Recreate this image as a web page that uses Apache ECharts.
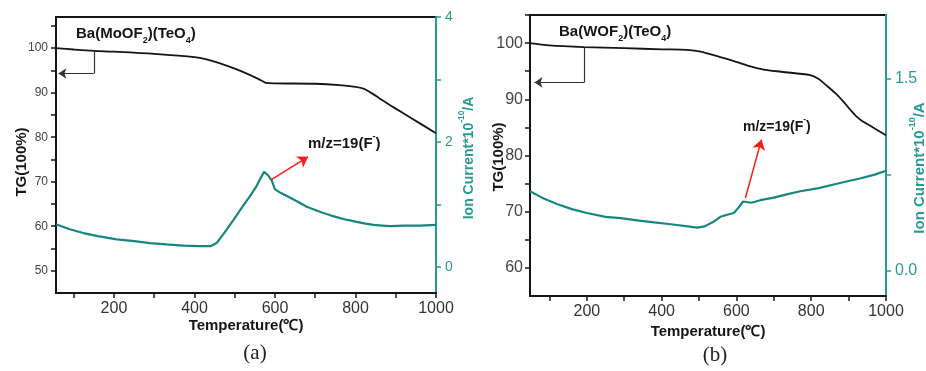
<!DOCTYPE html>
<html>
<head>
<meta charset="utf-8">
<script src="https://cdn.jsdelivr.net/npm/echarts@6/dist/echarts.min.js"></script>
<style>
  html, body { margin: 0; padding: 0; background: #fff; }
  #chart { width: 926px; height: 371px; }
</style>
</head>
<body>
<div id="chart"></div>
<script>
// panel (a) Ba(MoOF2)(TeO4)
const tempTgA = [56, 100, 150, 200, 300, 400, 430, 460, 500, 540, 565, 578, 600, 700, 760, 800, 820, 840, 860, 886, 920, 960, 1000];
const tgA = [100.0, 99.7, 99.4, 99.2, 98.7, 98.0, 97.5, 96.7, 95.4, 93.9, 92.8, 92.2, 92.1, 92.0, 91.7, 91.3, 90.9, 89.9, 88.7, 87.2, 85.3, 83.1, 80.9];
const tempIonA = [56, 90, 124, 160, 207, 250, 289, 330, 372, 410, 440, 455, 475, 497, 518, 538, 555, 566, 573, 582, 592, 600, 615, 637, 660, 679, 700, 720, 740, 762, 780, 803, 825, 845, 866, 886, 920, 960, 1000];
const ionA = [0.68, 0.60, 0.54, 0.49, 0.44, 0.41, 0.38, 0.36, 0.34, 0.33, 0.33, 0.38, 0.55, 0.75, 0.95, 1.13, 1.30, 1.44, 1.52, 1.47, 1.38, 1.24, 1.18, 1.11, 1.03, 0.96, 0.91, 0.86, 0.82, 0.78, 0.75, 0.72, 0.69, 0.67, 0.66, 0.65, 0.66, 0.66, 0.67];

// panel (b) Ba(WOF2)(TeO4)
const tempTgB = [48, 100, 193, 300, 400, 468, 504, 557, 593, 630, 673, 720, 797, 820, 842, 866, 886, 905, 920, 935, 960, 1000];
const tgB = [100.0, 99.6, 99.3, 99.1, 98.9, 98.8, 98.5, 97.5, 96.8, 96.0, 95.3, 94.9, 94.3, 93.6, 92.4, 91.0, 89.6, 88.1, 87.0, 86.2, 85.2, 83.6];
const tempIonB = [48, 80, 120, 160, 200, 250, 290, 340, 380, 430, 470, 495, 515, 540, 557, 580, 593, 605, 618, 640, 664, 700, 740, 771, 820, 877, 930, 970, 1000];
const ionB = [0.62, 0.57, 0.52, 0.48, 0.45, 0.42, 0.41, 0.39, 0.376, 0.36, 0.345, 0.335, 0.345, 0.384, 0.42, 0.44, 0.45, 0.49, 0.54, 0.53, 0.55, 0.57, 0.60, 0.62, 0.645, 0.685, 0.72, 0.75, 0.78];

// ticks
const xTicks = [100, 200, 300, 400, 500, 600, 700, 800, 900, 1000];
const xLabels = [200, 400, 600, 800, 1000];
const tgTicksA = [50, 55, 60, 65, 70, 75, 80, 85, 90, 95, 100, 105];
const tgLabelsA = [50, 60, 70, 80, 90, 100];
const ionTicksA = [0, 1, 2, 3, 4];
const ionLabelsA = [0, 2, 4];
const tgTicksB = [60, 65, 70, 75, 80, 85, 90, 95, 100, 105];
const tgLabelsB = [60, 70, 80, 90, 100];
const ionTicksB = [0, 0.75, 1.5];
const ionLabelsB = [0, 1.5];

// annotations (data coords)
const arrowA = [[590, 1.39], [682, 1.76]];
const bracketA = [[150, 99.4], [150, 94.3], [62, 94.3]];
const arrowB = [[624, 0.567], [667, 1.024]];
const bracketB = [[193, 99.3], [193, 93.0], [60, 93.0]];

const FONT = '"Liberation Sans", Arial, sans-serif';
const BLACK = '#151515';
const TEAL = '#17867f';
const TEAL_AXIS = '#2a9994';

const zip = (xs, ys) => xs.map((x, i) => [x, ys[i]]);

const chart = echarts.init(document.getElementById('chart'));

function xAxisOf(grid, min) {
  return {
    type: 'value', gridIndex: grid, min, max: 1000,
    axisLine: { show: true, onZero: false, lineStyle: { color: BLACK, width: 2 } },
    axisTick: { show: true, customValues: xTicks, length: 5, lineStyle: { color: BLACK, width: 1.5 } },
    axisLabel: { customValues: xLabels, fontSize: 16, color: '#333', margin: 8, fontFamily: FONT, formatter: (v) => String(v) },
    splitLine: { show: false }
  };
}

function tgAxis(grid, min, max, ticks, labels, size, margin) {
  return {
    type: 'value', gridIndex: grid, position: 'left', min, max,
    axisLine: { show: true, onZero: false, lineStyle: { color: BLACK, width: 2 } },
    axisTick: { show: true, customValues: ticks, length: 5, lineStyle: { color: BLACK, width: 1.5 } },
    axisLabel: { customValues: labels, fontSize: size, color: '#444', margin, fontFamily: FONT, formatter: (v) => String(v) },
    splitLine: { show: false }
  };
}

function ionAxis(grid, min, max, ticks, labels, size, fmt) {
  return {
    type: 'value', gridIndex: grid, position: 'right', min, max,
    axisLine: { show: true, onZero: false, lineStyle: { color: TEAL_AXIS, width: 2 } },
    axisTick: { show: true, customValues: ticks, length: 5, lineStyle: { color: TEAL_AXIS, width: 1.5 } },
    axisLabel: { customValues: labels, fontSize: size, color: TEAL_AXIS, margin: 9, fontFamily: FONT, formatter: fmt },
    splitLine: { show: false }
  };
}

function arrowLine(pts) {
  return {
    silent: true, animation: false,
    symbol: ['none', 'arrow'], symbolSize: 10,
    label: { show: false },
    lineStyle: { color: '#ff1a1a', type: 'solid', width: 1.5 },
    data: [[{ coord: pts[0] }, { coord: pts[1] }]]
  };
}

function bracketLine(pts) {
  return {
    silent: true, animation: false,
    symbol: ['none', 'arrow'], symbolSize: 8,
    label: { show: false },
    lineStyle: { color: '#333', type: 'solid', width: 1.2 },
    data: [
      [{ coord: pts[0] }, { coord: pts[1], symbol: 'none' }],
      [{ coord: pts[1] }, { coord: pts[2] }]
    ]
  };
}

const boldText = (x, y, text, size, color, rotation) => ({
  type: 'text', x, y, rotation: rotation || 0, silent: true,
  style: {
    text, fill: color, align: 'center', verticalAlign: 'middle',
    font: `bold ${size}px ${FONT}`
  }
});

const richText = (x, y, text, size, color, rotation, align) => ({
  type: 'text', x, y, rotation: rotation || 0, silent: true,
  style: {
    text, align: align || 'left', verticalAlign: 'middle',
    rich: {
      n: { fontSize: size, fontWeight: 'bold', fontFamily: FONT, fill: color, lineHeight: size + 8, verticalAlign: 'middle' },
      s: { fontSize: size * 0.6, fontWeight: 'bold', fontFamily: FONT, fill: color, lineHeight: size * 0.6, verticalAlign: 'bottom' },
      p: { fontSize: size * 0.6, fontWeight: 'bold', fontFamily: FONT, fill: color, lineHeight: size * 0.6, verticalAlign: 'top' }
    }
  }
});

const serifText = (x, y, text) => ({
  type: 'text', x, y, silent: true,
  style: { text, fill: '#222', align: 'center', verticalAlign: 'middle', font: `21px "Liberation Serif", "DejaVu Serif", serif` }
});

const option = {
  backgroundColor: '#fff',
  animation: false,
  grid: [
    { left: 56, top: 17, width: 380, height: 276, show: true, borderColor: BLACK, borderWidth: 2, backgroundColor: 'transparent' },
    { left: 530, top: 15, width: 356, height: 281, show: true, borderColor: BLACK, borderWidth: 2, backgroundColor: 'transparent' }
  ],
  xAxis: [xAxisOf(0, 56), xAxisOf(1, 48)],
  yAxis: [
    tgAxis(0, 45, 107, tgTicksA, tgLabelsA, 12, 8),
    ionAxis(0, -0.42, 4, ionTicksA, ionLabelsA, 14, (v) => String(v)),
    tgAxis(1, 55, 105, tgTicksB, tgLabelsB, 16, 7),
    ionAxis(1, -0.2, 2.0, ionTicksB, ionLabelsB, 16, (v) => v.toFixed(1))
  ],
  series: [
    {
      type: 'line', xAxisIndex: 0, yAxisIndex: 0, data: zip(tempTgA, tgA),
      showSymbol: false, smooth: 0.3, lineStyle: { color: BLACK, width: 1.8 },
      markLine: bracketLine(bracketA)
    },
    {
      type: 'line', xAxisIndex: 0, yAxisIndex: 1, data: zip(tempIonA, ionA),
      showSymbol: false, lineStyle: { color: TEAL, width: 2.2 },
      markLine: arrowLine(arrowA)
    },
    {
      type: 'line', xAxisIndex: 1, yAxisIndex: 2, data: zip(tempTgB, tgB),
      showSymbol: false, smooth: 0.3, lineStyle: { color: BLACK, width: 1.8 },
      markLine: bracketLine(bracketB)
    },
    {
      type: 'line', xAxisIndex: 1, yAxisIndex: 3, data: zip(tempIonB, ionB),
      showSymbol: false, lineStyle: { color: TEAL, width: 2.2 },
      markLine: arrowLine(arrowB)
    }
  ],
  graphic: [
    // panel (a)
    richText(76, 34, '{n|Ba(MoOF}{s|2}{n|)(TeO}{s|4}{n|)}', 15, BLACK),
    richText(308, 144, '{n|m/z=19(F}{p|-}{n|)}', 15, BLACK),
    boldText(22, 162, 'TG(100%)', 15, BLACK, Math.PI / 2),
    richText(469, 158, '{n|Ion Current*10}{p|-10}{n|/A}', 14, TEAL_AXIS, Math.PI / 2, 'center'),
    boldText(246, 326, 'Temperature(℃)', 15, BLACK),
    serifText(255, 353, '(a)'),
    // panel (b)
    richText(559, 32, '{n|Ba(WOF}{s|2}{n|)(TeO}{s|4}{n|)}', 15, BLACK),
    richText(743, 127, '{n|m/z=19(F}{p|-}{n|)}', 14, BLACK),
    boldText(499, 157, 'TG(100%)', 15, BLACK, Math.PI / 2),
    richText(920, 168, '{n|Ion Current*10}{p|-10}{n|/A}', 15, TEAL_AXIS, Math.PI / 2, 'center'),
    boldText(708, 332, 'Temperature(℃)', 15, BLACK),
    serifText(715, 355, '(b)')
  ]
};

chart.setOption(option);
</script>
</body>
</html>
